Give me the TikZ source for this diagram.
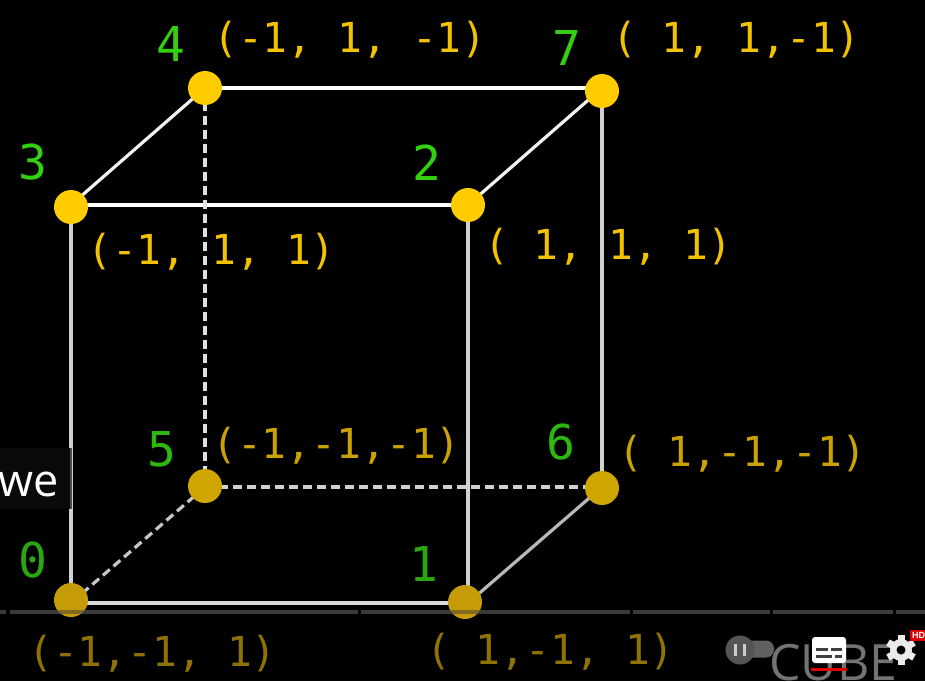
\documentclass[tikz,border=0pt]{standalone}
\usepackage{fontspec}
\setmainfont{DejaVu Sans Mono}
\newfontfamily\capfont{Liberation Sans}
\newfontfamily\wmfont{Open Sans}
\definecolor{gA}{HTML}{33D010}
\definecolor{gB}{HTML}{2CB80E}
\definecolor{gC}{HTML}{28A80C}
\definecolor{yA}{HTML}{FFCC00}
\definecolor{yB}{HTML}{CFA500}
\definecolor{yC}{HTML}{C59C08}
\definecolor{tA}{HTML}{F2C200}
\definecolor{tB}{HTML}{CBA203}
\definecolor{tC}{HTML}{8F7206}
\tikzset{
  x=1pt,y=-1pt,
  vert/.style={circle,inner sep=0pt,minimum size=34pt,fill=#1},
  idx/.style={text=#1,font=\fontsize{48}{48}\selectfont,inner sep=0pt},
  coord/.style={text=#1,font=\fontsize{41.3}{42}\selectfont,inner sep=0pt,anchor=west},
  edgeS/.style={draw=#1,line width=3.2pt},
  edgeD/.style={draw=#1,line width=3.2pt,dash pattern=on 9pt off 5pt},
}
\begin{document}
\begin{tikzpicture}
\useasboundingbox (0,0) rectangle (925,681);
\clip (0,0) rectangle (925,681);
\fill[black] (0,0) rectangle (925,681);
% cube corners
\coordinate (a4) at (205,88);
\coordinate (a7) at (602,88);
\coordinate (a3) at (71,205);
\coordinate (a2) at (468,205);
\coordinate (a5) at (205,487);
\coordinate (a6) at (602,487);
\coordinate (a0) at (71,603);
\coordinate (a1) at (468,603);
% edges
\draw[edgeS=white] (a4) -- (a7);
\draw[edgeS=white] (a3) -- (a2);
\draw[edgeS=white!95!black] (a3) -- (a4);
\draw[edgeS=white!95!black] (a2) -- (a7);
\draw[edgeS=white!82!black] (a3) -- (a0);
\draw[edgeS=white!82!black] (a2) -- (a1);
\draw[edgeS=white!82!black] (a7) -- (a6);
\draw[edgeS=white!85!black] (a0) -- (a1);
\draw[edgeS=white!72!black] (a1) -- (a6);
\draw[edgeD=white!88!black] (a4) -- (a5);
\draw[edgeD=white!82!black] (a5) -- (a6);
\draw[edgeD=white!78!black] (a5) -- (a0);
% vertices
\node[vert=yA] (v4) at (205,88) {};
\node[vert=yA] (v7) at (602,91) {};
\node[vert=yA] (v3) at (71,207) {};
\node[vert=yA] (v2) at (468,205) {};
\node[vert=yB] (v5) at (205,486) {};
\node[vert=yB] (v6) at (602,488) {};
\node[vert=yC] (v0) at (71,600) {};
\node[vert=yC] (v1) at (465,602) {};
% green indices
\node[idx=gA] (n4) at (171,44) {4};
\node[idx=gA] (n7) at (567,48) {7};
\node[idx=gA] (n3) at (33,162) {3};
\node[idx=gA] (n2) at (427,163) {2};
\node[idx=gB] (n5) at (162,449) {5};
\node[idx=gB] (n6) at (561,442) {6};
\node[idx=gC] (n0) at (33,560) {0};
\node[idx=gC] (n1) at (424,564) {1};
% coordinates
\node[coord=tA] (c4) at (213,40) {(-1, 1, -1)};
\node[coord=tA] (c7) at (612,40) {( 1, 1,-1)};
\node[coord=tA] (c3) at (87,252) {(-1, 1, 1)};
\node[coord=tA] (c2) at (484,247) {( 1, 1, 1)};
\node[coord=tB] (c5) at (212,446) {(-1,-1,-1)};
\node[coord=tB] (c6) at (618,454) {( 1,-1,-1)};
\node[coord=tC] (c0) at (28,654) {(-1,-1, 1)};
\node[coord=tC] (c1) at (426,652) {( 1,-1, 1)};
% player chrome
\fill[white!23!black] (0,609.5) rectangle (6,613.5);
\fill[white!23!black] (10,609.5) rectangle (358,613.5);
\fill[white!23!black] (361,609.5) rectangle (630,613.5);
\fill[white!23!black] (633,609.5) rectangle (770,613.5);
\fill[white!23!black] (773,609.5) rectangle (893,613.5);
\fill[white!23!black] (896,609.5) rectangle (925,613.5);
\begin{scope}
\clip (0,609.5) rectangle (925,613.5);
\fill[yC,opacity=.5] (71,600) circle (17);
\fill[yC,opacity=.5] (465,602) circle (17);
\end{scope}
\node[text=white!45!black,font=\wmfont\fontsize{50}{50}\selectfont,inner sep=0pt,anchor=west] (cube) at (769,663) {CUBE};
\fill[white!38!black,rounded corners=8pt] (738,640.5) rectangle (774,657.5);
\node[circle,fill=white!33!black,minimum size=29pt,inner sep=0pt] (pause) at (740,650) {};
\fill[white!80!black] (733.5,644) rectangle (737,656);
\fill[white!80!black] (742.5,644) rectangle (746,656);
% subtitles icon
\fill[white,rounded corners=3pt] (812,637) rectangle (846,663);
\fill[black!75] (816,648) rectangle (828,651);
\fill[black!75] (831,648) rectangle (842,651);
\fill[black!75] (816,655) rectangle (832,658);
\fill[black!75] (835,655) rectangle (842,658);
\fill[red!90!black] (811,668) rectangle (847,671);
% gear
\fill[white!92!black] (901,650) circle (11);
\foreach \a in {0,60,...,300}{\fill[white!92!black,rotate around={\a:(901,650)}] (897.5,635) rectangle (904.5,642);}
\fill[black] (901,650) circle (4.5);
\fill[red!85!black] (910,630) rectangle (925,641);
\node[text=white,font=\capfont\bfseries\fontsize{9}{9}\selectfont,inner sep=0pt,anchor=west] (hd) at (912,635.5) {HD};
% caption
\fill[white!4!black] (0,448) rectangle (69.5,509);
\fill[white!30!black] (69.5,448) rectangle (72,509);
\node[text=white,font=\wmfont\fontsize{45}{45}\selectfont,inner sep=0pt,anchor=base east] (we) at (59,496) {we};
\end{tikzpicture}
\end{document}
